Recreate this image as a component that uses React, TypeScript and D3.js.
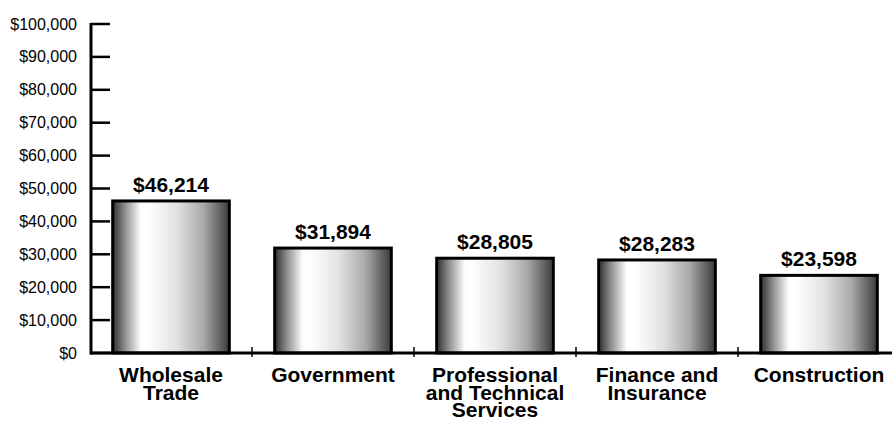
import React from "react";
import * as d3 from "d3";

const categories: string[][] = [
  ["Wholesale", "Trade"],
  ["Government"],
  ["Professional", "and Technical", "Services"],
  ["Finance and", "Insurance"],
  ["Construction"],
];
const values: number[] = [46214, 31894, 28805, 28283, 23598];
const yTicks: number[] = [0, 10000, 20000, 30000, 40000, 50000, 60000, 70000, 80000, 90000, 100000];

const W = 892;
const H = 421;

export default function App() {
  const x = d3
    .scaleBand<number>()
    .domain(values.map((_, i) => i))
    .range([90, 900])
    .paddingInner(0.28)
    .paddingOuter(0.14);
  const y = d3.scaleLinear().domain([0, 100000]).range([353, 24]);
  const fmt = (v: number) => "$" + d3.format(",")(v);
  const step = x.step();
  const font = "Arial, 'Liberation Sans', Helvetica, sans-serif";

  return (
    <svg
      width={W}
      height={H}
      style={{ position: "absolute", left: 0, top: 0, background: "#fff" }}
      fontFamily={font}
    >
      <defs>
        <linearGradient id="barGrad" x1="0" x2="1" y1="0" y2="0">
          <stop offset="0" stopColor="#2e2e2e" />
          <stop offset="0.1" stopColor="#8a8a8a" />
          <stop offset="0.24" stopColor="#fdfdfd" />
          <stop offset="0.3" stopColor="#ffffff" />
          <stop offset="0.55" stopColor="#e2e2e2" />
          <stop offset="0.78" stopColor="#a8a8a8" />
          <stop offset="0.93" stopColor="#5e5e5e" />
          <stop offset="1" stopColor="#3a3a3a" />
        </linearGradient>
      </defs>
      {/* y ticks */}
      {yTicks.map((t) => (
        <g key={t}>
          <line x1={91} x2={110} y1={y(t)} y2={y(t)} stroke="#000" strokeWidth={2.5} />
          <text x={77} y={y(t) + 5.5} textAnchor="end" fontSize={16} fill="#000">
            {fmt(t)}
          </text>
        </g>
      ))}
      {/* bars */}
      {values.map((v, i) => (
        <g key={i}>
          <rect
            x={x(i)!}
            y={y(v)}
            width={x.bandwidth()}
            height={y(0) - y(v)}
            fill="url(#barGrad)"
            stroke="#000"
            strokeWidth={3}
          />
          <text
            x={x(i)! + x.bandwidth() / 2}
            y={y(v) - 9}
            textAnchor="middle"
            fontSize={21}
            fontWeight="bold"
            fill="#000"
          >
            {fmt(v)}
          </text>
          {categories[i].map((line, j) => (
            <text
              key={j}
              x={x(i)! + x.bandwidth() / 2}
              y={382 + j * 17.7}
              textAnchor="middle"
              fontSize={21}
              fontWeight="bold"
              fill="#000"
            >
              {line}
            </text>
          ))}
        </g>
      ))}
      {/* category boundary ticks */}
      {values.slice(1).map((_, i) => {
        const bx = 90 + step * (i + 1);
        return <line key={i} x1={bx} x2={bx} y1={347} y2={357} stroke="#000" strokeWidth={1.5} />;
      })}
      {/* axes */}
      <line x1={91} x2={91} y1={y(100000) - 1} y2={y(0) + 1.5} stroke="#000" strokeWidth={3} />
      <line x1={90} x2={892} y1={y(0)} y2={y(0)} stroke="#000" strokeWidth={3} />
    </svg>
  );
}
